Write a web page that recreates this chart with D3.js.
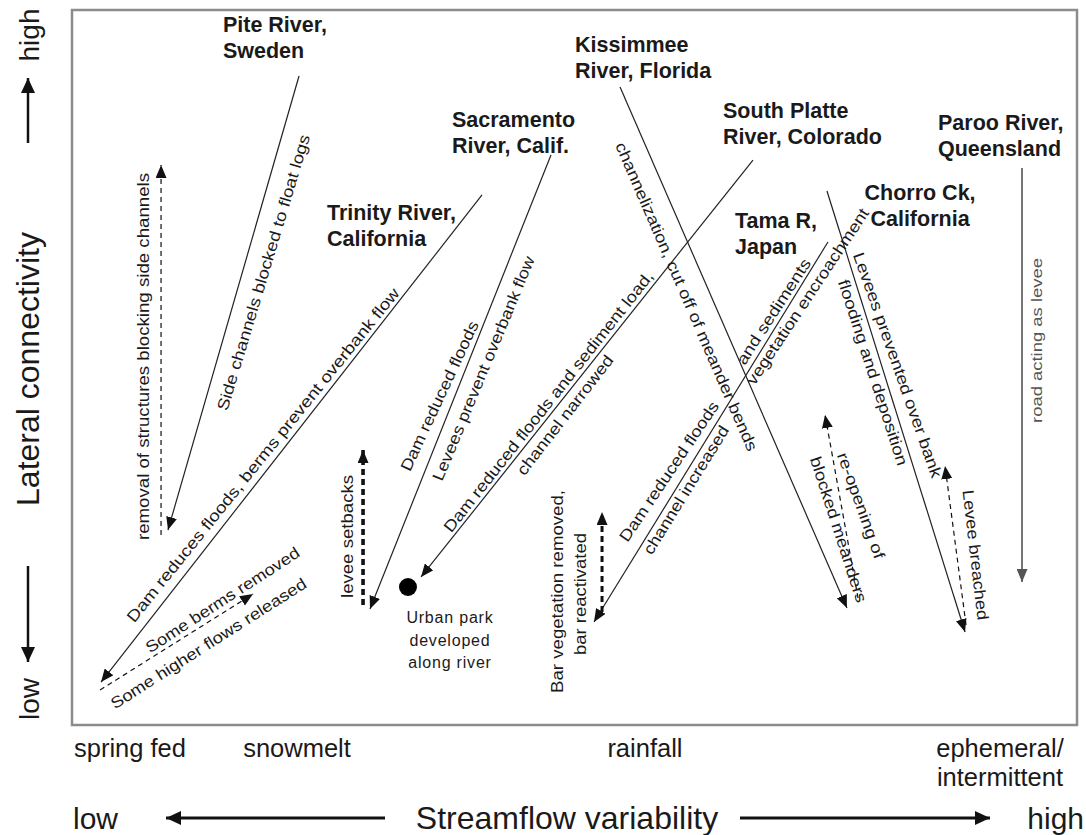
<!DOCTYPE html>
<html><head><meta charset="utf-8">
<script src="https://cdn.jsdelivr.net/npm/d3@7"></script>
<style>
html,body{margin:0;padding:0;background:#fff;}
text{font-family:"Liberation Sans", Arial, sans-serif;fill:#1a1a1a;}
</style></head>
<body><svg id="chart" width="1086" height="835"></svg>
<script>
// ---- data (x = streamflow variability 0-100, y = lateral connectivity 0-100) ----
const categories = ["spring fed","snowmelt","rainfall","ephemeral/\nintermittent"];
const categoryX = [5.77, 22.39, 57.01, 92.34];

const riverNames = [
  ["Pite River,","Sweden"], ["Kissimmee","River, Florida"], ["Sacramento","River, Calif."],
  ["South Platte","River, Colorado"], ["Paroo River,","Queensland"], ["Trinity River,","California"],
  ["Tama R,","Japan"], ["Chorro Ck,","California"]
];
const riverLabelX = [15.02, 50.05, 37.81, 64.78, 86.17, 25.37, 65.97, 84.38];
const riverLabelY = [96.92, 94.13, 83.64, 84.90, 83.22, 70.63, 69.51, 73.43];
const riverLabelAnchor = ["start","start","start","start","start","start","start","middle"];

// degradation trajectories (solid arrows): [x1,y1,x2,y2]
const degradation = [
  [22.59,90.77, 9.55,27.27],   // Pite
  [40.80,74.13, 2.89,6.01],    // Trinity
  [47.66,79.72, 29.65,16.22],  // Sacramento
  [67.76,79.02, 34.73,20.70],  // South Platte
  [54.53,89.23, 77.11,16.36],  // Kissimmee
  [75.22,67.55, 51.94,14.41],  // Tama
  [75.12,74.69, 88.86,13.01]   // Chorro
];
const parooRoad = [94.53,77.90, 94.53,20.0];

// restoration trajectories (dashed arrows): [x1,y1,x2,y2,weight]
const restoration = [
  [8.86,26.57, 8.86,78.32, 1],   // removal of structures
  [2.79,4.90, 18.01,18.32, 1],   // some berms removed
  [28.96,16.78, 28.96,38.46, 3], // levee setbacks
  [52.74,15.80, 52.74,29.79, 2.5], // bar vegetation removed
  [78.21,17.76, 74.93,43.36, 1], // re-opening of meanders
  [88.96,13.99, 86.87,36.22, 1]  // levee breached
];
const urbanPark = [33.43, 19.30];
const urbanParkText = ["Urban park","developed","along river"];

// annotations along trajectories: [text, x1,y1, x2,y2]
const annotations = [
  ["Side channels blocked to float logs", 14.93,44.06, 23.18,82.52],
  ["removal of structures blocking side channels", 7.16,25.87, 7.16,77.20],
  ["Dam reduces floods, berms prevent overbank flow", 5.77,14.69, 32.24,60.84],
  ["Some berms removed", 7.46,10.63, 22.49,24.34],
  ["Some higher flows released", 3.98,2.80, 23.18,20.0],
  ["levee setbacks", 27.46,17.76, 27.46,34.97],
  ["Dam reduced floods", 33.13,35.66, 40.0,56.36],
  ["Levees prevent overbank flow", 36.32,34.27, 45.57,65.45],
  ["Dam reduced floods and sediment load,", 37.31,27.27, 57.51,63.22],
  ["channel narrowed", 44.58,35.24, 53.53,51.47],
  ["channelization, cut off of meander bends", 54.53,81.40, 67.76,38.46],
  ["Dam reduced floods", 54.83,25.87, 63.98,45.03],
  ["and sediments", 66.47,50.63, 73.13,65.03],
  ["channel increased", 57.21,24.06, 64.98,41.68],
  ["vegetation encroachment", 67.46,47.83, 78.91,72.03],
  ["Levees prevented over bank", 78.21,66.01, 86.07,34.69],
  ["flooding and deposition", 76.72,62.24, 82.69,36.36],
  ["re-opening of", 76.62,38.04, 80.40,23.36],
  ["blocked meanders", 73.93,37.48, 78.61,17.20],
  ["Levee breached", 89.15,32.87, 90.65,14.69],
  ["Bar vegetation removed,", 48.26,4.48, 48.26,32.87],
  ["bar reactivated", 50.55,9.79, 50.55,26.85]
];
const roadNote = ["road acting as levee", 96.02,42.24, 96.02,65.31];

// ---- drawing ----
const svg = d3.select("#chart");
const x = d3.scaleLinear().domain([0,100]).range([72,1077]);
const y = d3.scaleLinear().domain([0,100]).range([725,10]);

const defs = svg.append("defs");
function marker(id, color, L, W){
  defs.append("marker").attr("id",id).attr("markerUnits","userSpaceOnUse")
    .attr("viewBox",`0 0 ${L} ${W}`).attr("refX",L).attr("refY",W/2)
    .attr("markerWidth",L).attr("markerHeight",W).attr("orient","auto")
    .append("path").attr("d",`M0,0L${L},${W/2}L0,${W}Z`).attr("fill",color);
}
marker("ah","#111",13,11);
marker("ahg","#555",13,11);
marker("ahb","#111",15,14);

svg.append("rect").attr("width",1086).attr("height",835).attr("fill","#fff");
svg.append("rect").attr("x",x(0)).attr("y",y(100)).attr("width",x(100)-x(0)).attr("height",y(0)-y(100))
  .attr("fill","none").attr("stroke","#8c8c8c").attr("stroke-width",2.5);

const plot = svg.append("g");

plot.selectAll("line.deg").data(degradation).join("line").attr("class","deg")
  .attr("x1",d=>x(d[0])).attr("y1",d=>y(d[1])).attr("x2",d=>x(d[2])).attr("y2",d=>y(d[3]))
  .attr("stroke","#222").attr("stroke-width",1.2).attr("marker-end","url(#ah)");

plot.append("line").attr("x1",x(parooRoad[0])).attr("y1",y(parooRoad[1]))
  .attr("x2",x(parooRoad[2])).attr("y2",y(parooRoad[3]))
  .attr("stroke","#555").attr("stroke-width",1.6).attr("marker-end","url(#ahg)");

plot.selectAll("line.res").data(restoration).join("line").attr("class","res")
  .attr("x1",d=>x(d[0])).attr("y1",d=>y(d[1])).attr("x2",d=>x(d[2])).attr("y2",d=>y(d[3]))
  .attr("stroke","#111").attr("stroke-width",d=>d[4]*1.2)
  .attr("stroke-dasharray",d=>d[4]>1?"6,4":"5,4").attr("marker-end","url(#ah)");

plot.append("circle").attr("cx",x(urbanPark[0])).attr("cy",y(urbanPark[1])).attr("r",9).attr("fill","#000");
plot.selectAll("text.urban").data(urbanParkText).join("text").attr("class","urban")
  .attr("x",x(urbanPark[0])+42).attr("y",(d,i)=>y(urbanPark[1])+36+i*22.5)
  .attr("text-anchor","middle").attr("font-size",16).attr("fill","#333")
  .style("letter-spacing","0.8px").text(d=>d);

function along(sel, data, size, color){
  sel.selectAll(null).data(data).join("text")
    .each(function(d){
      const x1=x(d[1]), y1=y(d[2]), x2=x(d[3]), y2=y(d[4]);
      const ang=Math.atan2(y2-y1,x2-x1)*180/Math.PI, len=Math.hypot(x2-x1,y2-y1);
      d3.select(this).attr("transform",`translate(${(x1+x2)/2},${(y1+y2)/2}) rotate(${ang})`)
        .attr("text-anchor","middle").attr("dominant-baseline","central")
        .attr("font-size",size).attr("textLength",len).attr("lengthAdjust","spacingAndGlyphs")
        .style("fill",color).text(d[0]);
    });
}
along(plot.append("g"), annotations, 16, "#1a1a1a");
along(plot.append("g"), [roadNote], 14, "#555");

// river name labels
riverNames.forEach((lines,i)=>{
  const t = plot.append("text").attr("font-size",21.5).attr("font-weight","bold")
    .attr("text-anchor",riverLabelAnchor[i]);
  lines.forEach((l,j)=>t.append("tspan").attr("x",x(riverLabelX[i])).attr("y",y(riverLabelY[i])+j*26).text(l));
});

// bottom categories
categories.forEach((c,i)=>{
  const t = svg.append("text").attr("font-size",25.5).attr("text-anchor","middle");
  c.split("\n").forEach((l,j)=>t.append("tspan").attr("x",x(categoryX[i])).attr("y",757+j*29).text(l));
});

// x axis title with arrows
svg.append("text").attr("x",73).attr("y",829).attr("font-size",30).text("low");
svg.append("text").attr("x",567).attr("y",829).attr("font-size",32).attr("text-anchor","middle").text("Streamflow variability");
svg.append("text").attr("x",1084).attr("y",829).attr("font-size",30).attr("text-anchor","end").text("high");
svg.append("line").attr("x1",385).attr("y1",818).attr("x2",166).attr("y2",818).attr("stroke","#111").attr("stroke-width",3).attr("marker-end","url(#ahb)");
svg.append("line").attr("x1",740).attr("y1",818).attr("x2",990).attr("y2",818).attr("stroke","#111").attr("stroke-width",3).attr("marker-end","url(#ahb)");

// y axis title with arrows
svg.append("text").attr("transform","translate(39,35) rotate(-90)").attr("font-size",28).attr("text-anchor","middle").text("high");
svg.append("text").attr("transform","translate(39,369) rotate(-90)").attr("font-size",32).attr("text-anchor","middle").text("Lateral connectivity");
svg.append("text").attr("transform","translate(39,699) rotate(-90)").attr("font-size",28).attr("text-anchor","middle").text("low");
svg.append("line").attr("x1",28).attr("y1",143).attr("x2",28).attr("y2",78).attr("stroke","#111").attr("stroke-width",2.5).attr("marker-end","url(#ahb)");
svg.append("line").attr("x1",28).attr("y1",566).attr("x2",28).attr("y2",662).attr("stroke","#111").attr("stroke-width",2.5).attr("marker-end","url(#ahb)");
</script></body></html>
